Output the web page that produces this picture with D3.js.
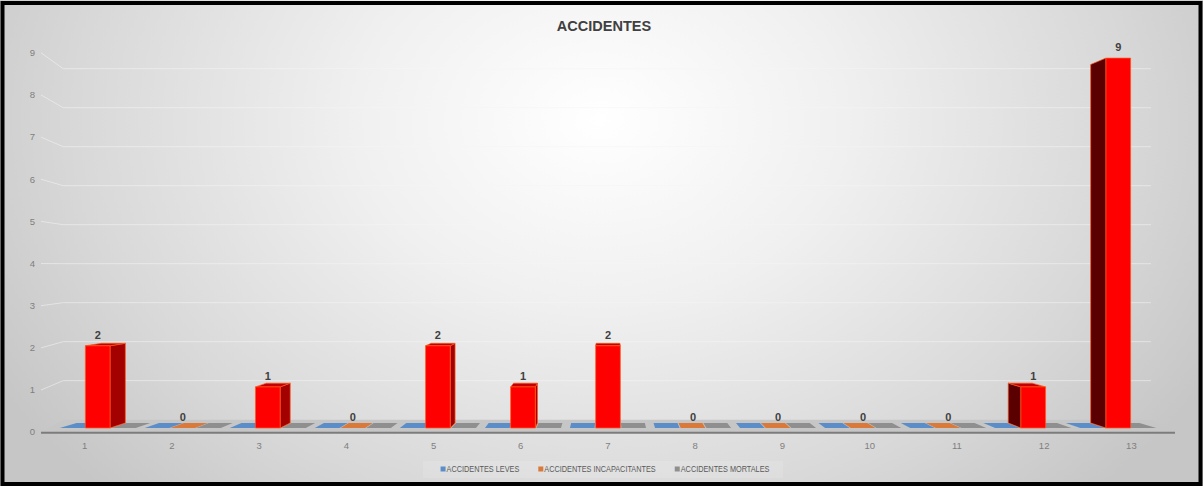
<!DOCTYPE html>
<html>
<head>
<meta charset="utf-8">
<script src="https://cdn.jsdelivr.net/npm/d3@7"></script>
<style>
  html, body { margin: 0; padding: 0; background: #ffffff; }
  svg { display: block; }
</style>
</head>
<body>
<svg id="chart" width="1203" height="486"></svg>
<script>
// ---- data ----
const chartTitle = "ACCIDENTES";
const categories = ["1", "2", "3", "4", "5", "6", "7", "8", "9", "10", "11", "12", "13"];
const accidentesLeves = [0, 0, 0, 0, 0, 0, 0, 0, 0, 0, 0, 0, 0];
const accidentesIncapacitantes = [2, 0, 1, 0, 2, 1, 2, 0, 0, 0, 0, 1, 9];
const accidentesMortales = [0, 0, 0, 0, 0, 0, 0, 0, 0, 0, 0, 0, 0];
const seriesNames = ["ACCIDENTES LEVES", "ACCIDENTES INCAPACITANTES", "ACCIDENTES MORTALES"];
const yTicks = [0, 1, 2, 3, 4, 5, 6, 7, 8, 9];

// ---- styles ----
const seriesColors = ["#5b8ec9", "#d9793a", "#8f8f8f"];
const redFaces = { front: "#ff0000", top: "#c40000", right: "#a30000", left: "#5a0000", edge: "#ff5a1e" };
const labelSeries = 1; // only the middle series carries data labels

const W = 1203, H = 486;
const svg = d3.select("#chart");
const defs = svg.append("defs");

// background: soft radial gradient, white at the top centre, grey at the edges
const grad = defs.append("radialGradient")
  .attr("id", "bg")
  .attr("gradientUnits", "userSpaceOnUse")
  .attr("cx", 600).attr("cy", 120).attr("r", 700)
  .attr("gradientTransform", "translate(0,30) scale(1,0.75)");
[[0, "#ffffff"], [0.35, "#f0f0f0"], [0.75, "#d8d8d8"], [1, "#c6c6c6"]]
  .forEach(([o, c]) => grad.append("stop").attr("offset", o).attr("stop-color", c));

svg.append("rect").attr("x", 0).attr("y", 0).attr("width", W).attr("height", H).attr("fill", "url(#bg)");

// ---- 3D perspective set-up ----
const vanishX = 608;             // horizontal vanishing point
const sFront = 1;                // floor front edge
const sBarFront = 0.975;         // bar front faces
const sBarBack = 0.945;          // bar back faces
const sWall = 0.925;             // back wall
const baseAtBarFront = 428;
const baseSlope = 167;
const baseY = s => baseAtBarFront + (s - sBarFront) * baseSlope;

const x = d3.scaleBand().domain(categories).range([41, 1175]);
const groupWidth = 78;
const xSub = d3.scaleBand().domain(d3.range(3)).range([0, groupWidth]).paddingInner(0.04);
const y = d3.scaleLinear().domain([0, 9]).range([0, 379.4]);

const proj = (X, v, s) => [vanishX + (X - vanishX) * s, baseY(s) - y(v) * s];
const wallLeft = x.range()[0] - 22;
const wallRight = x.range()[1] + 20;
const poly = pts => "M" + pts.map(p => p.join(",")).join("L") + "Z";

// ---- gridlines (side wall slant + back wall) ----
const grid = svg.append("g").attr("opacity", 0.55);
yTicks.filter(v => v > 0).forEach(v => {
  const a = proj(x.range()[0], v, sFront);
  const b = proj(wallLeft, v, sWall);
  const c = proj(wallRight, v, sWall);
  grid.append("path")
    .attr("d", `M${a}L${b}L${c}`)
    .attr("fill", "none")
    .attr("stroke", "#f6f6f6")
    .attr("stroke-width", 1);
});

// ---- floor ----
const floorPts = [
  proj(x.range()[0], 0, sFront), proj(x.range()[1], 0, sFront),
  proj(wallRight, 0, sWall), proj(wallLeft, 0, sWall)
];
svg.append("path").attr("d", poly(floorPts)).attr("fill", "#c6c6c6");
svg.append("line")
  .attr("x1", floorPts[0][0]).attr("y1", floorPts[0][1] + 0.5)
  .attr("x2", floorPts[1][0]).attr("y2", floorPts[1][1] + 0.5)
  .attr("stroke", "#7c7c7c").attr("stroke-width", 2);

// ---- bars ----
const seriesValues = [accidentesLeves, accidentesIncapacitantes, accidentesMortales];
const bars = [];
categories.forEach((cat, i) => {
  seriesValues.forEach((vals, j) => {
    const X0 = x(cat) + (x.bandwidth() - groupWidth) / 2 + xSub(j);
    bars.push({ cat, i, j, v: vals[i], X0, X1: X0 + xSub.bandwidth() });
  });
});

const barG = svg.append("g");
// flat (zero) bars first, then raised bars
bars.filter(b => b.v === 0).forEach(b => {
  const pts = [proj(b.X0, 0, sBarFront), proj(b.X1, 0, sBarFront), proj(b.X1, 0, sBarBack), proj(b.X0, 0, sBarBack)];
  barG.append("path").attr("d", poly(pts)).attr("fill", seriesColors[b.j]);
});

bars.filter(b => b.v > 0).forEach(b => {
  const FLb = proj(b.X0, 0, sBarFront), FRb = proj(b.X1, 0, sBarFront);
  const FLt = proj(b.X0, b.v, sBarFront), FRt = proj(b.X1, b.v, sBarFront);
  const BLb = proj(b.X0, 0, sBarBack), BRb = proj(b.X1, 0, sBarBack);
  const BLt = proj(b.X0, b.v, sBarBack), BRt = proj(b.X1, b.v, sBarBack);
  const face = (pts, fill) => barG.append("path").attr("d", poly(pts))
    .attr("fill", fill).attr("stroke", redFaces.edge).attr("stroke-width", 0.7).attr("stroke-linejoin", "round");
  if (BRt[0] > FRt[0] + 0.5) face([FRb, BRb, BRt, FRt], redFaces.right);
  if (BLt[0] < FLt[0] - 0.5) face([FLb, BLb, BLt, FLt], redFaces.left);
  if (BLt[1] < FLt[1]) face([FLt, FRt, BRt, BLt], redFaces.top);
  face([FLb, FRb, FRt, FLt], redFaces.front);
});

// ---- data labels ----
const fontMain = "'Liberation Sans', Arial, sans-serif";
bars.filter(b => b.j === labelSeries).forEach(b => {
  const p = proj((b.X0 + b.X1) / 2, b.v, sBarFront);
  svg.append("text")
    .attr("x", p[0]).attr("y", p[1] - 7)
    .attr("text-anchor", "middle")
    .attr("font-family", fontMain).attr("font-weight", "bold").attr("font-size", 11)
    .attr("fill", "#404040")
    .text(b.v);
});

// ---- axes labels ----
yTicks.forEach(v => {
  const p = proj(x.range()[0], v, sFront);
  svg.append("text")
    .attr("x", 35).attr("y", p[1] + 3.3)
    .attr("text-anchor", "end")
    .attr("font-family", fontMain).attr("font-size", 9.5)
    .attr("fill", "#7f7f7f")
    .text(v);
});
categories.forEach(cat => {
  svg.append("text")
    .attr("x", x(cat) + x.bandwidth() / 2).attr("y", 448.5)
    .attr("text-anchor", "middle")
    .attr("font-family", fontMain).attr("font-size", 9.5)
    .attr("fill", "#7f7f7f")
    .text(cat);
});

// ---- title ----
svg.append("text")
  .attr("x", 604).attr("y", 31)
  .attr("text-anchor", "middle")
  .attr("font-family", fontMain).attr("font-weight", "bold").attr("font-size", 14.5)
  .attr("fill", "#404040")
  .text(chartTitle);

// ---- legend ----
const legend = svg.append("g");
legend.append("rect").attr("x", 423).attr("y", 461).attr("width", 360).attr("height", 17)
  .attr("fill", "#ffffff").attr("opacity", 0.12);
let lx = 0;
const items = [];
seriesNames.forEach((name, j) => {
  const g = legend.append("g");
  g.append("rect").attr("x", 0).attr("y", -2.5).attr("width", 5).attr("height", 5).attr("fill", seriesColors[j]);
  const t = g.append("text")
    .attr("x", 6).attr("y", 3)
    .attr("font-family", fontMain).attr("font-size", 8.5)
    .attr("fill", "#595959")
    .text(name);
  const w = t.node().getComputedTextLength() * 0.86;
  t.attr("textLength", w).attr("lengthAdjust", "spacingAndGlyphs");
  items.push({ g, w: 6 + w });
});
const gap = 19;
const total = d3.sum(items, d => d.w) + gap * (items.length - 1);
lx = 605 - total / 2;
items.forEach(it => { it.g.attr("transform", `translate(${lx},469)`); lx += it.w + gap; });

// ---- outer frame ----
svg.append("rect").attr("x", 2.5).attr("y", 3).attr("width", W - 5).attr("height", H - 5)
  .attr("fill", "none").attr("stroke", "#000000").attr("stroke-width", 4);
</script>
</body>
</html>
